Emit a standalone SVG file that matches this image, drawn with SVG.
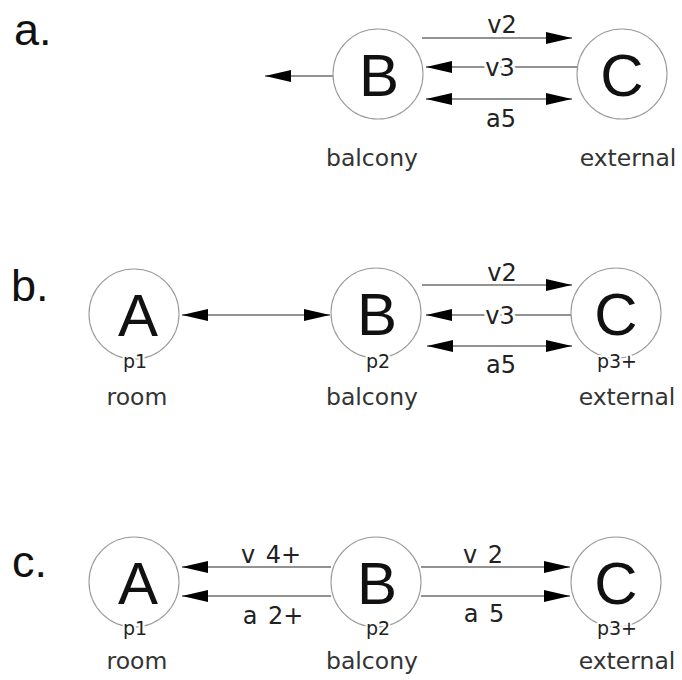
<svg xmlns="http://www.w3.org/2000/svg" width="682" height="680" viewBox="0 0 682 680">
  <style>
    .panel { font-family: "Liberation Sans", Arial, sans-serif; font-size: 45px; fill: #111; }
    .ring { fill: #fff; stroke: #9a9a9a; stroke-width: 1.1; }
    .letter { font-family: "Liberation Sans", Arial, sans-serif; font-size: 60px; fill: #111; text-anchor: middle; }
    .port { font-family: "DejaVu Sans", sans-serif; font-size: 19px; fill: #222; text-anchor: middle; stroke: #fff; stroke-width: 4; paint-order: stroke; stroke-linejoin: round; }
    .name { font-family: "DejaVu Sans", sans-serif; font-size: 23.5px; fill: #333; text-anchor: middle; }
    .flow { font-family: "DejaVu Sans", sans-serif; font-size: 24px; fill: #222; text-anchor: middle; word-spacing: 3px; }
    .halo { stroke: #fff; stroke-width: 6; paint-order: stroke; stroke-linejoin: round; }
    .edge { stroke: #6e6e6e; stroke-width: 1.5; fill: none; }
    .head { marker-end: url(#tip); }
    .both { marker-start: url(#tip); marker-end: url(#tip); }
  </style>
  <defs>
    <marker id="tip" viewBox="0 0 26 12" refX="26" refY="6" markerWidth="26" markerHeight="12" markerUnits="userSpaceOnUse" orient="auto-start-reverse">
      <path d="M0,0 L26,6 L0,12 z" fill="#000"/>
    </marker>
  </defs>

  <rect width="682" height="680" fill="#fff"/>

  <!-- panel tags -->
  <text class="panel" x="14" y="45">a.</text>
  <text class="panel" x="11" y="301">b.</text>
  <text class="panel" x="12" y="577">c.</text>

  <!-- connectors -->
  <g id="connectors">
    <!-- panel a -->
    <line class="edge head" x1="333" y1="76" x2="265" y2="76"/>
    <line class="edge head" x1="422" y1="38" x2="572" y2="38"/>
    <line class="edge head" x1="577" y1="67" x2="426" y2="67"/>
    <line class="edge both" x1="426" y1="99" x2="572" y2="99"/>
    <!-- panel b -->
    <line class="edge both" x1="182" y1="315" x2="330" y2="315"/>
    <line class="edge head" x1="422" y1="285" x2="572" y2="285"/>
    <line class="edge head" x1="571" y1="315" x2="426" y2="315"/>
    <line class="edge both" x1="427" y1="346" x2="572" y2="346"/>
    <!-- panel c -->
    <line class="edge head" x1="331" y1="567" x2="182" y2="567"/>
    <line class="edge head" x1="331" y1="596" x2="182" y2="596"/>
    <line class="edge head" x1="421" y1="567" x2="570" y2="567"/>
    <line class="edge head" x1="421" y1="596" x2="570" y2="596"/>

    <!-- flow labels -->
    <text class="flow" x="502" y="33">v2</text>
    <text class="flow halo" x="500" y="76">v3</text>
    <text class="flow" x="501" y="127">a5</text>

    <text class="flow" x="502" y="281">v2</text>
    <text class="flow halo" x="500" y="324">v3</text>
    <text class="flow" x="501" y="373">a5</text>

    <text class="flow" x="271" y="563">v 4+</text>
    <text class="flow" x="273" y="624">a 2+</text>
    <text class="flow" x="483" y="563">v 2</text>
    <text class="flow" x="484" y="622">a 5</text>
  </g>

  <!-- panel a nodes -->
  <g id="a-balcony">
    <circle class="ring" cx="378" cy="74" r="45"/>
    <text class="letter" x="379" y="96">B</text>
    <text class="name" x="372" y="166">balcony</text>
  </g>
  <g id="a-external">
    <circle class="ring" cx="622" cy="74" r="45"/>
    <text class="letter" x="622" y="96">C</text>
    <text class="name" x="628" y="166">external</text>
  </g>

  <!-- panel b nodes -->
  <g id="b-room">
    <circle class="ring" cx="134" cy="314" r="45"/>
    <text class="letter" x="138" y="336">A</text>
    <text class="port" x="135" y="368">p1</text>
    <text class="name" x="137" y="405">room</text>
  </g>
  <g id="b-balcony">
    <circle class="ring" cx="376" cy="313" r="45"/>
    <text class="letter" x="377" y="335">B</text>
    <text class="port" x="378" y="368">p2</text>
    <text class="name" x="372" y="405">balcony</text>
  </g>
  <g id="b-external">
    <circle class="ring" cx="616" cy="313" r="45"/>
    <text class="letter" x="616" y="335">C</text>
    <text class="port" x="617" y="368">p3+</text>
    <text class="name" x="627" y="405">external</text>
  </g>

  <!-- panel c nodes -->
  <g id="c-room">
    <circle class="ring" cx="134" cy="582" r="45"/>
    <text class="letter" x="138" y="604">A</text>
    <text class="port" x="135" y="635">p1</text>
    <text class="name" x="137" y="669">room</text>
  </g>
  <g id="c-balcony">
    <circle class="ring" cx="376" cy="582" r="45"/>
    <text class="letter" x="377" y="604">B</text>
    <text class="port" x="378" y="635">p2</text>
    <text class="name" x="372" y="669">balcony</text>
  </g>
  <g id="c-external">
    <circle class="ring" cx="616" cy="582" r="45"/>
    <text class="letter" x="616" y="604">C</text>
    <text class="port" x="617" y="635">p3+</text>
    <text class="name" x="627" y="669">external</text>
  </g>
</svg>
